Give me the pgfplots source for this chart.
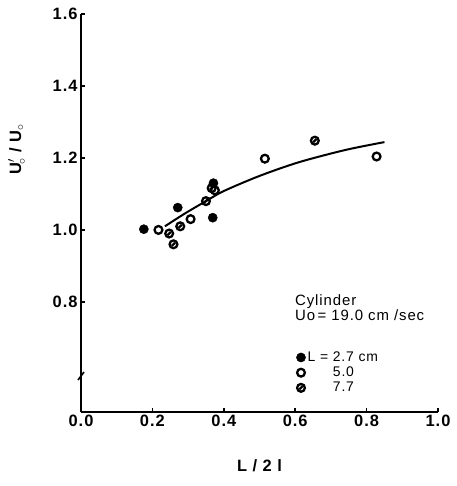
\documentclass[border=0pt]{standalone}
\usepackage{fontspec}
\setmainfont{Liberation Sans}[LetterSpace=6]
\usepackage{pgfplots}
\pgfplotsset{compat=1.18}

% circle with a slash through it (the 7.7 cm series)
\pgfdeclareplotmark{slashcirc}{%
  \pgfpathcircle{\pgfpointorigin}{\pgfplotmarksize}%
  \pgfusepathqstroke
  \pgfpathmoveto{\pgfpointpolar{225}{0.6\pgfplotmarksize}}%
  \pgfpathlineto{\pgfpointpolar{45}{0.6\pgfplotmarksize}}%
  \pgfusepathqstroke}

\begin{document}
\begin{tikzpicture}
\useasboundingbox (-81bp,-74bp) rectangle (376bp,412bp);
\begin{axis}[
  at={(0,0)}, anchor=south west,
  scale only axis,
  width=357bp, height=398bp,
  xmin=0, xmax=1.0,
  ymin=0.494, ymax=1.6,
  axis lines=left,
  axis line style={line width=2pt, -},
  tick style={line width=1.6pt, black},
  tick align=inside,
  major tick length=4bp,
  xtick={0,0.2,...,1.0},
  ytick={0.8,1.0,...,1.6},
  /pgf/number format/.cd, fixed, precision=1, fixed zerofill, assume math mode=true,
  /pgfplots/.cd,
  tick label style={font=\fontsize{16.5}{18}\bfseries},
  xlabel={L / 2 l},
  xlabel style={font=\fontsize{16.5}{18}\bfseries, yshift=-26bp},
  ylabel={U$'_{\!\circ}$ / U$_{\circ}$},
  ylabel style={font=\fontsize{16.5}{18}\bfseries, at={(axis description cs:-0.18,0.66)}, anchor=center},
  clip=false,
  legend style={draw=none, fill=none, at={(axis cs:0.6,0.67)}, anchor=north west,
    font=\fontsize{14}{15}\selectfont, row sep=0bp, inner sep=1bp},
  legend cell align=left,
  legend image code/.code={\draw[#1] plot coordinates {(0.2cm,0cm)};},
]
% fitted curve
\addplot[black, line width=2pt, smooth, forget plot] coordinates {
  (0.235,1.01) (0.29,1.045) (0.35,1.08) (0.40,1.108) (0.50,1.15)
  (0.61,1.188) (0.74,1.222) (0.85,1.244)};
% L = 2.7 cm
\addplot[only marks, mark=*, mark size=4.6bp, black] coordinates {
  (0.176,1.002) (0.271,1.062) (0.369,1.034) (0.371,1.13)};
\addlegendentry{L = 2.7 cm}
% L = 5.0 cm
\addplot[only marks, mark=o, mark size=3.9bp, line width=2.3pt, black,
  mark options={fill=white}] coordinates {
  (0.217,1.00) (0.307,1.03) (0.375,1.11) (0.515,1.198) (0.828,1.204)};
\addlegendentry{\phantom{L = }5.0}
% L = 7.7 cm
\addplot[only marks, mark=slashcirc, mark size=3.9bp, line width=2.3pt, black,
  mark options={fill=white}] coordinates {
  (0.247,0.99) (0.259,0.96) (0.278,1.01) (0.35,1.08) (0.366,1.116) (0.655,1.248)};
\addlegendentry{\phantom{L = }7.7}
\node[anchor=west, font=\fontsize{15}{17}\selectfont, align=left] at (axis cs:0.59,0.785)
  {Cylinder\\[-2bp]Uo\,= 19.0 cm /sec};
% axis break mark
\draw[line width=1.6pt] ([xshift=-3bp,yshift=-4bp]axis cs:0,0.594) -- ([xshift=3bp,yshift=4bp]axis cs:0,0.594);
\end{axis}
\end{tikzpicture}
\end{document}
